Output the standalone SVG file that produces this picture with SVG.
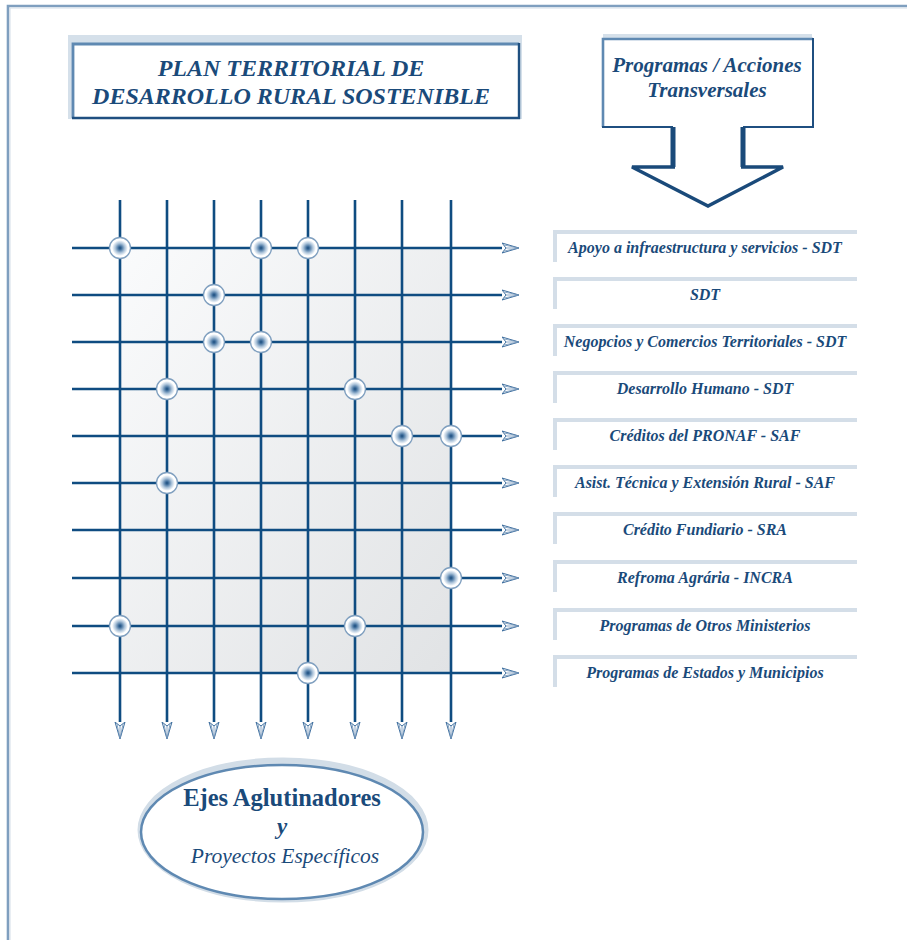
<svg xmlns="http://www.w3.org/2000/svg" width="907" height="940" viewBox="0 0 907 940">
<style>
.t{font-family:"Liberation Serif","Times New Roman",serif;fill:#1a4a7a;text-anchor:middle}
.bi{font-weight:bold;font-style:italic}
.lbl{font-size:16px}
.grid{stroke:#0f4c81;stroke-width:2.6;fill:none}
.bev{stroke:#d4dee8;stroke-width:4;fill:none}
.node{fill:url(#ng);stroke:#7f9fbf;stroke-width:1.3}
</style>
<defs>
<radialGradient id="ng" cx="0.5" cy="0.5" r="0.5">
<stop offset="0" stop-color="#1a4a7a"/>
<stop offset="0.15" stop-color="#3f6e9c"/>
<stop offset="0.45" stop-color="#aac2d9"/>
<stop offset="0.75" stop-color="#ffffff"/>
<stop offset="1" stop-color="#ffffff"/>
</radialGradient>
<linearGradient id="bg" x1="0" y1="0" x2="1" y2="1">
<stop offset="0" stop-color="#fafbfc"/>
<stop offset="1" stop-color="#e1e3e5"/>
</linearGradient>
<marker id="ah" markerUnits="userSpaceOnUse" markerWidth="18" markerHeight="14" viewBox="0 -7 18 14" refX="0" refY="0" orient="auto">
<path d="M0,-5 L17,0 L0,5 L4,0 Z" fill="#ffffff" stroke="#3f6f9f" stroke-width="1"/>
<path d="M2,-3 L17,0 M2,3 L17,0 M4,0 L17,0" stroke="#6f93b8" stroke-width="0.8" fill="none"/>
</marker>
</defs>

<rect width="907" height="940" fill="#ffffff"/>
<path d="M8,940 V6 H907" fill="none" stroke="#7f9fbf" stroke-width="2.6"/>
<path d="M10,940 V8 H907" fill="none" stroke="#d4dee8" stroke-width="1"/>

<g id="title">
<rect x="68" y="35" width="454" height="84" fill="#d5e0ea"/>
<rect x="72" y="43" width="447" height="75" fill="#ffffff"/>
<path d="M73,118 V44 H519" fill="none" stroke="#5f89b2" stroke-width="2.8"/>
<path d="M519,43 V118 H72" fill="none" stroke="#1f4f80" stroke-width="2.4"/>
<text class="t bi" x="291" y="76" font-size="24">PLAN TERRITORIAL DE</text>
<text class="t bi" x="291" y="104" font-size="24">DESARROLLO RURAL SOSTENIBLE</text>
</g>

<g id="programas">
<path d="M603,34 H812 V40 H603 Z" fill="#d5e0ea"/>
<path d="M602,38 H813 V127 H743 V167 H785 L708,208 L630,167 H673 V127 H602 Z" fill="#ffffff"/>
<path d="M603,127 V39 H813" fill="none" stroke="#5f89b2" stroke-width="2.6"/>
<path d="M813,38 V127 H743 M673,127 H602" fill="none" stroke="#1f4f80" stroke-width="2"/>
<path d="M673,127 V167 M743,127 V167" fill="none" stroke="#1a4a7a" stroke-width="5"/>
<path d="M675,167 H632 L708,206 L783,167 H741" fill="none" stroke="#1a4a7a" stroke-width="3.5" stroke-linejoin="miter"/>
<text class="t bi" x="707" y="72" font-size="21">Programas / Acciones</text>
<text class="t bi" x="707" y="97" font-size="21">Transversales</text>
</g>

<rect id="panel" x="120" y="248" width="331" height="425" fill="url(#bg)"/>

<g id="connectors">
<g class="grid" marker-end="url(#ah)">
<line x1="72" y1="248" x2="502" y2="248"/>
<line x1="72" y1="295" x2="502" y2="295"/>
<line x1="72" y1="342" x2="502" y2="342"/>
<line x1="72" y1="389" x2="502" y2="389"/>
<line x1="72" y1="436" x2="502" y2="436"/>
<line x1="72" y1="483" x2="502" y2="483"/>
<line x1="72" y1="530" x2="502" y2="530"/>
<line x1="72" y1="578" x2="502" y2="578"/>
<line x1="72" y1="626" x2="502" y2="626"/>
<line x1="72" y1="673" x2="502" y2="673"/>
<line x1="120" y1="200" x2="120" y2="722"/>
<line x1="167" y1="200" x2="167" y2="722"/>
<line x1="214" y1="200" x2="214" y2="722"/>
<line x1="261" y1="200" x2="261" y2="722"/>
<line x1="308" y1="200" x2="308" y2="722"/>
<line x1="355" y1="200" x2="355" y2="722"/>
<line x1="402" y1="200" x2="402" y2="722"/>
<line x1="451" y1="200" x2="451" y2="722"/>
</g>
</g>

<g id="nodes">
<circle id="n1a" class="node" cx="120" cy="248" r="10.5"/>
<circle id="n1b" class="node" cx="261" cy="248" r="10.5"/>
<circle id="n1c" class="node" cx="308" cy="248" r="10.5"/>
<circle id="n2a" class="node" cx="214" cy="295" r="10.5"/>
<circle id="n3a" class="node" cx="214" cy="342" r="10.5"/>
<circle id="n3b" class="node" cx="261" cy="342" r="10.5"/>
<circle id="n4a" class="node" cx="167" cy="389" r="10.5"/>
<circle id="n4b" class="node" cx="355" cy="389" r="10.5"/>
<circle id="n5a" class="node" cx="402" cy="436" r="10.5"/>
<circle id="n5b" class="node" cx="451" cy="436" r="10.5"/>
<circle id="n6a" class="node" cx="167" cy="483" r="10.5"/>
<circle id="n8a" class="node" cx="451" cy="578" r="10.5"/>
<circle id="n9a" class="node" cx="120" cy="626" r="10.5"/>
<circle id="n9b" class="node" cx="355" cy="626" r="10.5"/>
<circle id="n10a" class="node" cx="308" cy="673" r="10.5"/>
</g>

<g id="label1"><path class="bev" d="M555,262 V232 H857"/><text class="t bi lbl" x="705" y="253">Apoyo a infraestructura y servicios - SDT</text></g>
<g id="label2"><path class="bev" d="M555,309 V279 H857"/><text class="t bi lbl" x="705" y="300">SDT</text></g>
<g id="label3"><path class="bev" d="M555,356 V326 H857"/><text class="t bi lbl" x="705" y="347">Negopcios y Comercios Territoriales - SDT</text></g>
<g id="label4"><path class="bev" d="M555,403 V373 H857"/><text class="t bi lbl" x="705" y="394">Desarrollo Humano - SDT</text></g>
<g id="label5"><path class="bev" d="M555,450 V420 H857"/><text class="t bi lbl" x="705" y="441">Créditos del PRONAF - SAF</text></g>
<g id="label6"><path class="bev" d="M555,497 V467 H857"/><text class="t bi lbl" x="705" y="488">Asist. Técnica y Extensión Rural - SAF</text></g>
<g id="label7"><path class="bev" d="M555,544 V514 H857"/><text class="t bi lbl" x="705" y="535">Crédito Fundiario - SRA</text></g>
<g id="label8"><path class="bev" d="M555,592 V562 H857"/><text class="t bi lbl" x="705" y="583">Refroma Agrária - INCRA</text></g>
<g id="label9"><path class="bev" d="M555,640 V610 H857"/><text class="t bi lbl" x="705" y="631">Programas de Otros Ministerios</text></g>
<g id="label10"><path class="bev" d="M555,687 V657 H857"/><text class="t bi lbl" x="705" y="678">Programas de Estados y Municipios</text></g>

<g id="ejes">
<ellipse cx="283" cy="830" rx="142" ry="69" fill="none" stroke="#d2dde7" stroke-width="7"/>
<ellipse cx="282" cy="832" rx="141" ry="67" fill="#ffffff" stroke="#5f89b2" stroke-width="2.5"/>
<text class="t" x="282" y="806" font-size="24.5" font-weight="bold">Ejes Aglutinadores</text>
<text class="t bi" x="282" y="834" font-size="23">y</text>
<text class="t" x="285" y="863" font-size="21.5" font-style="italic">Proyectos Específicos</text>
</g>
</svg>
